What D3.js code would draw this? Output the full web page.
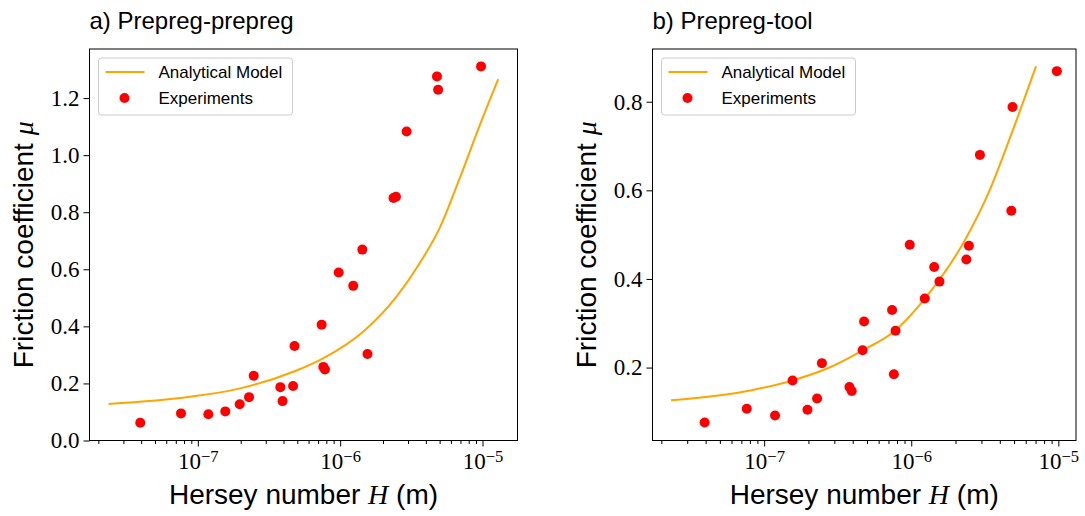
<!DOCTYPE html>
<html>
<head>
<meta charset="utf-8">
<script src="https://cdn.jsdelivr.net/npm/d3@7"></script>
<style>
  body { margin: 0; background: #fff; }
  svg { display: block; }
</style>
</head>
<body>
<svg id="chart"></svg>
<script>
// Hersey number H (m) of each experiment, shared by both panels
const hersey = [3.94e-8, 7.62e-8, 1.186e-7, 1.56e-7, 1.97e-7, 2.29e-7, 2.47e-7, 3.8e-7, 3.94e-7,
  4.67e-7, 4.78e-7, 7.41e-7, 7.62e-7, 7.82e-7, 9.77e-7, 1.236e-6, 1.432e-6, 1.556e-6,
  2.37e-6, 2.466e-6, 2.93e-6, 4.79e-6, 4.88e-6, 9.77e-6];

const muPrepreg = [0.062, 0.095, 0.092, 0.102, 0.127, 0.152, 0.227, 0.187, 0.138,
  0.191, 0.331, 0.406, 0.258, 0.249, 0.589, 0.542, 0.669, 0.303,
  0.850, 0.854, 1.083, 1.276, 1.229, 1.311];

const muTool = [0.076, 0.107, 0.092, 0.171, 0.105, 0.130, 0.210, 0.156, 0.147,
  0.239, 0.304, 0.330, 0.185, 0.283, 0.477, 0.356, 0.427, 0.394,
  0.444, 0.475, 0.680, 0.554, 0.788, 0.869];

// analytical model curves
const modelH_A = [2.36e-8, 8.83e-8, 1.88e-7, 4.69e-7, 7.6e-7, 1.45e-6, 2.49e-6, 3.63e-6, 5.01e-6, 6.93e-6, 9.58e-6, 1.29e-5];
const modelMu_A = [0.128, 0.153, 0.180, 0.241, 0.288, 0.381, 0.504, 0.622, 0.745, 0.920, 1.105, 1.266];

const modelH_B = [2.33e-8, 8.24e-8, 1.556e-7, 2.73e-7, 4.68e-7, 7.76e-7, 1.24e-6, 2.32e-6, 3.34e-6, 4.82e-6, 7.05e-6];
const modelMu_B = [0.126, 0.149, 0.171, 0.199, 0.239, 0.283, 0.356, 0.488, 0.593, 0.729, 0.880];

const decadeTicks = [1e-7, 1e-6, 1e-5];
const yTicksA = [0, 0.2, 0.4, 0.6, 0.8, 1.0, 1.2];
const yTicksB = [0.2, 0.4, 0.6, 0.8];

const W = 1085, H = 516;
const svg = d3.select('#chart').attr('width', W).attr('height', H);

const serif = "'Liberation Serif', 'DejaVu Serif', serif";
const sans = "'Liberation Sans', 'DejaVu Sans', sans-serif";

function panel(opts) {
  const { left, right, top, bottom } = opts;
  const x = d3.scaleLog().domain(opts.xDomain).range([left, right]);
  const y = d3.scaleLinear().domain(opts.yDomain).range([bottom, top]);

  const g = svg.append('g');

  // minor log ticks
  const minor = x.ticks().filter(v => !decadeTicks.some(d => Math.abs(v / d - 1) < 1e-6));
  g.append('g')
      .attr('transform', `translate(0,${bottom})`)
      .call(d3.axisBottom(x).tickValues(minor).tickSize(3.5).tickSizeOuter(0).tickFormat(''))
      .call(a => a.select('.domain').remove());

  const xAxis = g.append('g')
      .attr('transform', `translate(0,${bottom})`)
      .call(d3.axisBottom(x).tickValues(decadeTicks).tickSize(6).tickSizeOuter(0).tickPadding(6))
      .call(a => a.select('.domain').remove());
  xAxis.selectAll('.tick line').attr('stroke', '#000');
  xAxis.selectAll('.tick text')
      .attr('font-family', serif)
      .attr('font-size', 23)
      .attr('fill', '#000')
      .text(null)
      .each(function(d) {
        const t = d3.select(this);
        t.append('tspan').text('10');
        t.append('tspan').attr('dy', '-0.42em').attr('font-size', '0.72em')
            .text('\u2212' + Math.round(-Math.log10(d)));
      });

  const yAxis = g.append('g')
      .attr('transform', `translate(${left},0)`)
      .call(d3.axisLeft(y).tickValues(opts.yTicks).tickSize(6).tickSizeOuter(0).tickPadding(4)
        .tickFormat(d3.format('.1f')))
      .call(a => a.select('.domain').remove());
  yAxis.selectAll('.tick line').attr('stroke', '#000');
  yAxis.selectAll('.tick text')
      .attr('font-family', serif)
      .attr('font-size', 23)
      .attr('fill', '#000');

  // model line
  const line = d3.line().curve(d3.curveMonotoneX).x(d => x(d[0])).y(d => y(d[1]));
  g.append('path')
      .datum(d3.zip(opts.modelH, opts.modelMu))
      .attr('fill', 'none')
      .attr('stroke', 'orange')
      .attr('stroke-width', 2)
      .attr('d', line);

  // experiments
  g.append('g').selectAll('circle')
    .data(d3.zip(hersey, opts.mu))
    .join('circle')
      .attr('cx', d => x(d[0]))
      .attr('cy', d => y(d[1]))
      .attr('r', 5)
      .attr('fill', 'red');

  // frame
  g.append('rect')
      .attr('x', left).attr('y', top)
      .attr('width', right - left).attr('height', bottom - top)
      .attr('fill', 'none').attr('stroke', '#000').attr('stroke-width', 1);

  // legend
  const lg = g.append('g').attr('transform', `translate(${left + 9},${top + 9})`);
  lg.append('rect')
      .attr('width', 194).attr('height', 57).attr('rx', 3)
      .attr('fill', '#fff').attr('fill-opacity', 0.8)
      .attr('stroke', '#ccc').attr('stroke-width', 1);
  lg.append('line')
      .attr('x1', 7).attr('x2', 46).attr('y1', 14).attr('y2', 14)
      .attr('stroke', 'orange').attr('stroke-width', 2);
  lg.append('circle').attr('cx', 26).attr('cy', 40).attr('r', 5).attr('fill', 'red');
  lg.selectAll('text.leg')
    .data(['Analytical Model', 'Experiments'])
    .join('text')
      .attr('class', 'leg')
      .attr('x', 60)
      .attr('y', (d, i) => 20 + i * 26)
      .attr('font-family', sans)
      .attr('font-size', 17)
      .attr('fill', '#000')
      .text(d => d);

  // title
  g.append('text')
      .attr('x', left).attr('y', top - 20)
      .attr('font-family', sans).attr('font-size', 24).attr('fill', '#000')
      .text(opts.title);

  // x label
  const xl = g.append('text')
      .attr('x', (left + right) / 2).attr('y', bottom + 63)
      .attr('text-anchor', 'middle')
      .attr('font-family', sans).attr('font-size', 28).attr('fill', '#000');
  xl.append('tspan').text('Hersey number ');
  xl.append('tspan').attr('font-family', serif).attr('font-style', 'italic').text('H');
  xl.append('tspan').text(' (m)');

  // y label
  const yl = g.append('text')
      .attr('transform', `translate(${left + opts.yLabelOffset},${(top + bottom) / 2}) rotate(-90)`)
      .attr('text-anchor', 'middle')
      .attr('font-family', sans).attr('font-size', 28).attr('fill', '#000');
  yl.append('tspan').text('Friction coefficient ');
  yl.append('tspan').attr('font-family', serif).attr('font-style', 'italic').text('\u03bc');
}

panel({
  left: 89.5, right: 517.5, top: 49, bottom: 440.5,
  xDomain: [Math.pow(10, -7.761), Math.pow(10, -4.754)],
  yDomain: [0, 1.372],
  yTicks: yTicksA,
  mu: muPrepreg,
  modelH: modelH_A, modelMu: modelMu_A,
  title: 'a) Prepreg-prepreg',
  yLabelOffset: -57
});

panel({
  left: 652.5, right: 1076, top: 49, bottom: 440.5,
  xDomain: [Math.pow(10, -7.759), Math.pow(10, -4.88)],
  yDomain: [0.0354, 0.919],
  yTicks: yTicksB,
  mu: muTool,
  modelH: modelH_B, modelMu: modelMu_B,
  title: 'b) Prepreg-tool',
  yLabelOffset: -57
});
</script>
</body>
</html>
